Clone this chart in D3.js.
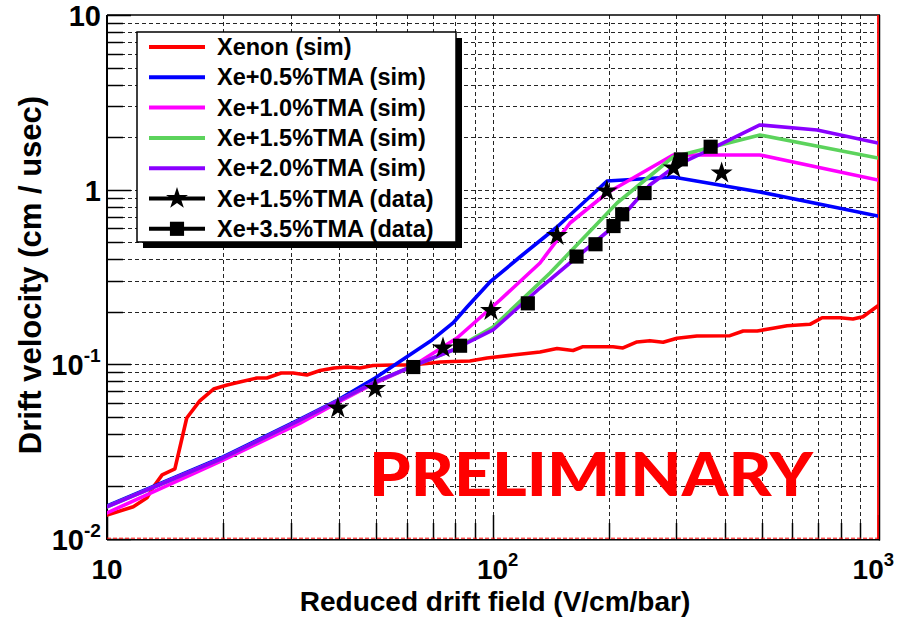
<!DOCTYPE html>
<html>
<head>
<meta charset="utf-8">
<script src="https://cdn.jsdelivr.net/npm/d3@7"></script>
<style>
  html, body { margin: 0; padding: 0; background: #fff; }
  svg { display: block; }
  text { font-family: "Liberation Sans", Arial, Helvetica, sans-serif; font-weight: bold; }
</style>
</head>
<body>
<svg id="chart" width="897" height="617"></svg>
<script>
// ---- Simulated drift velocity curves (field in V/cm/bar, velocity in cm/usec) ----
const xenonField = [10, 11.7, 12.7, 13.2, 13.9, 15.0, 16.1, 17.4, 18.9, 20.5, 22.1, 24.5, 26.0, 28.3, 30.4, 33.0,
  35.7, 38.8, 41.9, 45.3, 49.0, 55.2, 61.1, 67.6, 73.1, 79.0, 87.4, 96.8, 113, 132.8, 147, 161.8, 171.7,
  205.4, 218, 237, 256, 277, 301, 339, 413, 447, 486, 534, 581, 666, 716, 797, 861, 914, 1000];
const xenonVel = [0.0137, 0.0153, 0.0172, 0.0199, 0.0233, 0.0252, 0.0493, 0.0617, 0.0722, 0.0762, 0.0792, 0.0835,
  0.0835, 0.0892, 0.0892, 0.0869, 0.0922, 0.0953, 0.0965, 0.0953, 0.0985, 0.0991, 0.0991, 0.1011, 0.1031,
  0.1038, 0.1045, 0.1087, 0.1131, 0.1177, 0.1232, 0.1200, 0.1262, 0.1262, 0.1241, 0.1343, 0.1366, 0.1337,
  0.1409, 0.1453, 0.1459, 0.1552, 0.1552, 0.1608, 0.1664, 0.1695, 0.1849, 0.1849, 0.1818, 0.1874, 0.2166];

const tma05Field = [10, 20, 31.7, 39.7, 49.6, 69.7, 79.0, 85.9, 98.5, 117.8, 147, 198.2, 294, 494, 1000];
const tma05Vel = [0.01545, 0.0295, 0.0486, 0.0625, 0.0835, 0.1379, 0.1725, 0.2129, 0.2961, 0.4116, 0.6113,
  1.121, 1.182, 0.970, 0.7066];

const tma10Field = [10, 20, 31.7, 39.7, 49.6, 62.2, 80.9, 104.6, 132.8, 158.9, 198.2, 294, 494, 1000];
const tma10Vel = [0.0141, 0.0283, 0.0461, 0.0606, 0.0782, 0.0978, 0.1415, 0.2335, 0.3804, 0.6444, 0.957,
  1.579, 1.579, 1.136];

const tma15Field = [10, 20, 31.7, 39.7, 49.6, 62.2, 79.0, 100.3, 141, 210.4, 294, 494, 1000];
const tma15Vel = [0.0153, 0.0291, 0.0480, 0.0617, 0.0792, 0.0978, 0.1208, 0.1636, 0.3334, 0.8388, 1.538,
  2.056, 1.518];

const tma20Field = [10, 20, 31.7, 39.7, 49.6, 62.2, 79.0, 100.3, 132.8, 165.7, 205.4, 256, 301, 351.6, 494, 695, 1000];
const tma20Vel = [0.0153, 0.0291, 0.0480, 0.0617, 0.0792, 0.0978, 0.1208, 0.1573, 0.2735, 0.4116, 0.6113,
  1.063, 1.384, 1.622, 2.346, 2.196, 1.850];

// ---- Measurements ----
const data15Field = [39.7, 49.6, 74.4, 99.1, 147, 198, 295, 393];
const data15Vel = [0.0562, 0.0727, 0.124, 0.203, 0.546, 0.982, 1.33, 1.245];

const data35Field = [62.3, 82.4, 123.5, 165.2, 185, 206, 217, 248, 308, 368];
const data35Vel = [0.0965, 0.1278, 0.2235, 0.414, 0.487, 0.619, 0.723, 0.956, 1.491, 1.761];

// ---- Labels ----
const seriesNames = ["Xenon (sim)", "Xe+0.5%TMA (sim)", "Xe+1.0%TMA (sim)", "Xe+1.5%TMA (sim)",
  "Xe+2.0%TMA (sim)", "Xe+1.5%TMA (data)", "Xe+3.5%TMA (data)"];
const seriesColors = ["#ff0000", "#0000ff", "#ff00ff", "#5cd35c", "#8a00ff", "#000000", "#000000"];
const xTickValues = [10, 100, 1000];
const xTickLabels = [["10", ""], ["10", "2"], ["10", "3"]];
const yTickValues = [0.01, 0.1, 1, 10];
const yTickLabels = [["10", "-2"], ["10", "-1"], ["1", ""], ["10", ""]];
const xTitle = "Reduced drift field (V/cm/bar)";
const yTitle = "Drift velocity (cm / usec)";
const stamp = "PRELIMINARY";

// ---- Build the figure ----
const svg = d3.select("#chart");
const W = 897;
const x = d3.scaleLog().domain([10, 1000]).range([107, 878]);
const y = d3.scaleLog().domain([0.01, 10]).range([539, 15]);
const [x0, x1] = x.range();
const [y0, y1] = y.range();

svg.append("rect").attr("width", 897).attr("height", 617).attr("fill", "#fff");

svg.append("defs").append("clipPath").attr("id", "plotClip")
  .append("rect").attr("x", x0).attr("y", y1).attr("width", x1 - x0).attr("height", y0 - y1);

// dashed grid on every decade subdivision
const grid = svg.append("g").attr("stroke", "#000").attr("stroke-width", 1)
  .attr("stroke-dasharray", "4,3").attr("opacity", 0.85);
x.ticks().filter(v => v > 10 && v < 1000).forEach(v => {
  const px = Math.round(x(v)) + 0.5;
  grid.append("line").attr("x1", px).attr("x2", px).attr("y1", y1).attr("y2", y0);
});
y.ticks().filter(v => v > 0.01 && v < 10).forEach(v => {
  const py = Math.round(y(v)) + 0.5;
  grid.append("line").attr("x1", x0).attr("x2", x1).attr("y1", py).attr("y2", py);
});

// axis tick marks (inside the frame)
const isMajor = v => Math.abs(Math.log10(v) - Math.round(Math.log10(v))) < 1e-6;
const ticks = svg.append("g").attr("stroke", "#000").attr("stroke-width", 1.5);
y.ticks().forEach(v => {
  const py = Math.round(y(v)) + 0.5;
  ticks.append("line").attr("x1", x0).attr("x2", x0 + (isMajor(v) ? 24 : 16)).attr("y1", py).attr("y2", py);
});
x.ticks().forEach(v => {
  const px = Math.round(x(v)) + 0.5;
  ticks.append("line").attr("x1", px).attr("x2", px).attr("y1", y0).attr("y2", y0 - (isMajor(v) ? 24 : 16));
});

// frame
svg.append("line").attr("x1", x0).attr("x2", x1 + 2).attr("y1", y1).attr("y2", y1)
  .attr("stroke", "#000").attr("stroke-width", 1.5);
svg.append("line").attr("x1", x0).attr("x2", x0).attr("y1", y1).attr("y2", y0 + 1)
  .attr("stroke", "#000").attr("stroke-width", 2);
svg.append("line").attr("x1", x0).attr("x2", x1 + 2).attr("y1", y0 + 0.8).attr("y2", y0 + 0.8)
  .attr("stroke", "#000").attr("stroke-width", 1.5);
svg.append("line").attr("x1", x1 + 1.5).attr("x2", x1 + 1.5).attr("y1", y1).attr("y2", y0 + 1.5)
  .attr("stroke", "#000").attr("stroke-width", 1.5);
svg.append("line").attr("x1", x1).attr("x2", x1).attr("y1", y1).attr("y2", y0)
  .attr("stroke", "#ff0000").attr("stroke-width", 1.8);
svg.append("line").attr("x1", x0).attr("x2", x1).attr("y1", y0 - 0.8).attr("y2", y0 - 0.8)
  .attr("stroke", "#ff0000").attr("stroke-width", 1).attr("stroke-dasharray", "4,2");

// simulated curves
const curves = [
  [xenonField, xenonVel], [tma05Field, tma05Vel], [tma10Field, tma10Vel],
  [tma15Field, tma15Vel], [tma20Field, tma20Vel]
];
const line = d3.line().x(d => x(d[0])).y(d => y(d[1]));
const curveG = svg.append("g").attr("clip-path", "url(#plotClip)");
curves.forEach(([f, v], i) => {
  curveG.append("path").datum(f.map((e, k) => [e, v[k]]))
    .attr("d", line).attr("fill", "none").attr("stroke", seriesColors[i])
    .attr("stroke-width", 3.6).attr("stroke-linejoin", "round").attr("stroke-linecap", "round");
});

// measured points
const star = d3.symbol().type(d3.symbolStar).size(150);
const square = d3.symbol().type(d3.symbolSquare).size(200);
const markG = svg.append("g").attr("fill", "#000");
data15Field.forEach((e, k) => {
  markG.append("path").attr("d", star).attr("transform", `translate(${x(e)},${y(data15Vel[k])})`);
});
data35Field.forEach((e, k) => {
  markG.append("path").attr("d", square).attr("transform", `translate(${x(e)},${y(data35Vel[k])})`);
});

// legend box with drop shadow
const lg = svg.append("g");
const LX = 137, LY = 32, LW = 319, LH = 210, SH = 6;
lg.append("rect").attr("x", LX + SH).attr("y", LY + SH).attr("width", LW).attr("height", LH).attr("fill", "#000");
lg.append("rect").attr("x", LX).attr("y", LY).attr("width", LW).attr("height", LH)
  .attr("fill", "#fff").attr("stroke", "#000").attr("stroke-width", 1.5);
seriesNames.forEach((name, i) => {
  const cy = LY + 15 + i * 30.3;
  lg.append("line").attr("x1", 149).attr("x2", 205).attr("y1", cy).attr("y2", cy)
    .attr("stroke", seriesColors[i]).attr("stroke-width", 4);
  if (i === 5) lg.append("path").attr("d", star).attr("transform", `translate(177,${cy})`);
  if (i === 6) lg.append("path").attr("d", square).attr("transform", `translate(177,${cy})`);
  lg.append("text").attr("x", 217).attr("y", cy + 8).attr("font-size", 23.5).attr("fill", "#000").text(name);
});

// tick labels with exponent superscripts
function tickLabel(parts, py, size) {
  const t = svg.append("text").attr("y", py).attr("font-size", size).attr("fill", "#000");
  t.append("tspan").text(parts[0]);
  if (parts[1]) t.append("tspan").attr("dy", -13).attr("font-size", size * 0.66).text(parts[1]);
  return t;
}
xTickValues.forEach((v, i) => {
  const t = tickLabel(xTickLabels[i], 579, 28);
  const baseW = t.select("tspan").node().getComputedTextLength();
  const left = x(v) - baseW / 2;
  t.attr("x", left);
  const bb = t.node().getBBox();
  if (bb.x + bb.width > W - 3) t.attr("x", left - (bb.x + bb.width - (W - 3)));
});
yTickValues.forEach((v, i) => {
  const t = tickLabel(yTickLabels[i], y(v) + 11, 29);
  const bb = t.node().getBBox();
  t.attr("x", 101 - bb.width);
});

// axis titles
svg.append("text").attr("x", 495).attr("y", 610.5).attr("text-anchor", "middle")
  .attr("font-size", 28).attr("fill", "#000").text(xTitle);
svg.append("text").attr("transform", "translate(41,275) rotate(-90)").attr("text-anchor", "middle")
  .attr("font-size", 31).attr("fill", "#000").text(yTitle);

// stamp
svg.append("text").attr("x", 369).attr("y", 496)
  .style("font-family", "Lato, 'Open Sans', sans-serif").style("font-weight", "900")
  .attr("font-size", 61).attr("fill", "#ff0000")
  .attr("textLength", 444).attr("lengthAdjust", "spacingAndGlyphs").text(stamp);
</script>
</body>
</html>
